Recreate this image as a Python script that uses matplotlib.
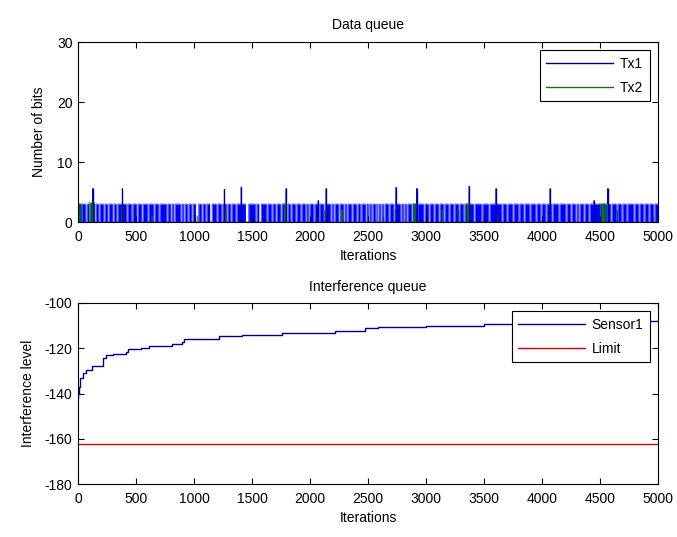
import numpy as np
import matplotlib
matplotlib.use("Agg")
import matplotlib.pyplot as plt

plt.rcParams['font.family'] = ['Liberation Sans', 'DejaVu Sans']
plt.rcParams['font.size'] = 10
plt.rcParams['axes.unicode_minus'] = False

# ---------------- data ----------------
n_iter = 5000
tx1_level = 3.0                      # height of the dense Tx1 band
# white gaps in the Tx1 band: centre iteration, width in iterations
tx1_gap_center = [26, 69, 103, 147, 181, 224, 259, 302, 336, 422, 465, 509, 552, 603, 655, 698, 767, 802, 828,
                  888, 914, 948, 983, 1026, 1069, 1103, 1146, 1198, 1241, 1284, 1319, 1362, 1457, 1534, 1569,
                  1629, 1672, 1707, 1750, 1802, 1836, 1879, 1922, 1965, 1991, 2034, 2077, 2121, 2181, 2207,
                  2250, 2293, 2319, 2362, 2405, 2439, 2483, 2508, 2534, 2569, 2586, 2612, 2638, 2681, 2724,
                  2784, 2810, 2836, 2879, 2922, 2983, 3026, 3069, 3112, 3155, 3198, 3241, 3284, 3327, 3414,
                  3482, 3543, 3655, 3698, 3750, 3801, 3845, 3896, 3948, 3991, 4034, 4086, 4146, 4207, 4250,
                  4293, 4319, 4362, 4405, 4508, 4551, 4595, 4646, 4689, 4732, 4793, 4836, 4879, 4922, 4965]
tx1_gap_width = [14, 14, 20, 14, 14, 14, 14, 14, 14, 14, 14, 14, 14, 14, 14, 14, 14, 14, 14,
                 14, 14, 14, 14, 28, 14, 14, 20, 14, 14, 14, 14, 14, 28, 14, 20,
                 14, 14, 14, 14, 14, 14, 14, 14, 14, 14, 14, 14, 14, 14, 14,
                 14, 14, 14, 14, 14, 14, 14, 14, 14, 14, 14, 14, 14, 14, 14,
                 14, 14, 14, 14, 14, 14, 14, 14, 14, 14, 14, 14, 14, 14, 14,
                 14, 14, 14, 14, 14, 14, 14, 14, 14, 14, 14, 14, 14, 14, 14,
                 14, 14, 14, 14, 14, 14, 14, 14, 14, 14, 14, 14, 14, 14, 14]
# isolated Tx1 peaks
tx1_peak_iter = [127, 382, 1261, 1406, 1793, 2070, 2138, 2741, 2919, 3371, 3603, 4069, 4448, 4566]
tx1_peak_value = [5.6, 5.6, 5.5, 5.9, 5.6, 3.6, 5.6, 5.8, 5.6, 6.0, 5.6, 5.6, 3.6, 5.6]

# Tx2 bursts: centre iteration, width, value
tx2_center = [17, 118, 377, 635, 1023, 1267, 1784, 2129, 2273, 2630, 2733, 2905, 3138, 3276, 3362,
              3612, 4069, 4528, 4646, 4957]
tx2_width = [30, 50, 20, 10, 10, 15, 25, 20, 20, 10, 15, 40, 15, 15, 30, 10, 10, 60, 15, 10]
tx2_value = [3.0, 3.2, 2.5, 1.0, 1.0, 2.0, 3.0, 2.0, 2.0, 1.0, 2.0, 3.0, 2.0, 2.0, 3.0,
             1.0, 1.0, 3.0, 2.0, 1.0]

# Sensor1 interference level
sensor_iter = [0, 3, 10, 20, 43, 71, 120, 214, 243, 300, 414, 429, 543, 614, 814, 900, 914,
               1214, 1414, 1757, 2214, 2471, 2586, 3000, 3500, 3800, 4200, 4600, 5000]
sensor_value = [-142, -140, -137, -133, -131, -129.5, -128, -124.5, -123, -122.5, -121.5, -120.2, -120,
                -119, -118, -117.3, -115.8, -114.7, -114, -113.2, -112.3, -111, -110.5, -110, -109.5,
                -109, -108.5, -108, -107.5]
limit_value = -162.5

# ---------------- build series ----------------
iters = np.arange(0, n_iter + 1)
tx1 = np.full(iters.shape, tx1_level)
for c, w in zip(tx1_gap_center, tx1_gap_width):
    tx1[(iters >= c - w / 2) & (iters <= c + w / 2)] = 0.0
for p, v in zip(tx1_peak_iter, tx1_peak_value):
    tx1[p] = v
tx1[0] = 0.0

tx2 = np.zeros(iters.shape)
for c, w, v in zip(tx2_center, tx2_width, tx2_value):
    tx2[(iters >= c - w / 2) & (iters <= c + w / 2)] = v

BLUE = (0.0, 0.0, 1.0)
NAVY = (0.0, 0.0, 0.55)
GREEN = (0.0, 0.5, 0.0)
RED = (0.85, 0.0, 0.0)

W, H = 677, 537
fig = plt.figure(figsize=(W / 100, H / 100), dpi=100)
ax1 = fig.add_axes([78 / W, 1 - 222 / H, 580 / W, 180 / H])
ax2 = fig.add_axes([78 / W, 1 - 484 / H, 580 / W, 181 / H])

# ---- top: data queue ----
ax1.fill_between(iters, tx1, step='mid', color=BLUE, lw=0)
l1, = ax1.plot(iters, tx1, color=BLUE, lw=0.4, drawstyle='steps-mid')
ax1.vlines(tx1_peak_iter, 0, tx1_peak_value, color=NAVY, lw=1.0)
ax1.fill_between(iters, tx2, step='mid', color=GREEN, lw=0, alpha=0.9)
tx2_line = np.where(tx2 > 0, tx2, np.nan)
l2, = ax1.plot(iters, tx2_line, color=GREEN, lw=0.5, drawstyle='steps-mid')
ax1.set_xlim(0, 5000)
ax1.set_ylim(0, 30)
ax1.set_xticks(np.arange(0, 5001, 500))
ax1.set_yticks([0, 10, 20, 30])
ax1.set_title('Data queue', fontsize=10, pad=9)
ax1.set_xlabel('Iterations', labelpad=3)
ax1.set_ylabel('Number of bits', labelpad=8)
leg1 = ax1.legend([l1, l2], ['Tx1', 'Tx2'], loc='upper right', fancybox=False, edgecolor='black',
                  framealpha=1, handlelength=4.8, borderaxespad=0.6, labelspacing=0.75, fontsize=10,
                  borderpad=0.45, handletextpad=0.5)
leg1.get_frame().set_linewidth(0.8)
for ln in leg1.get_lines():
    ln.set_linewidth(1.0)
    ln.set_color(NAVY)
leg1.get_lines()[1].set_color(GREEN)

# ---- bottom: interference queue ----
s1, = ax2.plot(sensor_iter, sensor_value, color=NAVY, lw=1.0, drawstyle='steps-post')
lim, = ax2.plot([iters[0], iters[-1]], [limit_value, limit_value], color=RED, lw=1.0)
ax2.set_xlim(0, 5000)
ax2.set_ylim(-180, -100)
ax2.set_xticks(np.arange(0, 5001, 500))
ax2.set_yticks([-180, -160, -140, -120, -100])
ax2.set_title('Interference queue', fontsize=10, pad=9)
ax2.set_xlabel('Iterations', labelpad=3)
ax2.set_ylabel('Interference level', labelpad=7)
leg2 = ax2.legend([s1, lim], ['Sensor1', 'Limit'], loc='upper right', fancybox=False, edgecolor='black',
                  framealpha=1, handlelength=4.8, borderaxespad=0.6, labelspacing=0.75, fontsize=10,
                  borderpad=0.45, handletextpad=0.5)
leg2.get_frame().set_linewidth(0.8)

for ax in (ax1, ax2):
    ax.tick_params(direction='in', length=4, width=0.8, top=True, right=True, labelsize=10)
    ax.tick_params(axis='x', pad=6)
    ax.tick_params(axis='y', pad=4)
    for sp in ax.spines.values():
        sp.set_linewidth(0.8)

fig.savefig('out.png', dpi=100)
